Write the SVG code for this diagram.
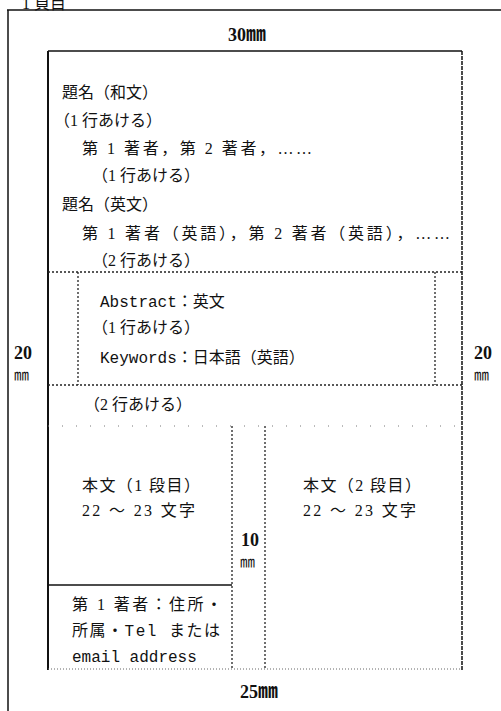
<svg xmlns="http://www.w3.org/2000/svg" width="501" height="711" viewBox="0 0 501 711">
<style>
text{font-family:"Liberation Serif","Noto Sans CJK JP",serif;font-size:16px;fill:#111}
.mono{font-family:"Liberation Mono","Noto Sans CJK JP",monospace}
.dim{font-size:18px;font-weight:bold}
.unit{font-size:15px;fill:#111}
.solid{stroke:#111;fill:none}
.dot{stroke:#222;stroke-width:1.3;stroke-dasharray:2 2;fill:none}
.faint{stroke:#666;stroke-width:1;stroke-dasharray:1 2;fill:none}
.sparse{stroke:#777;stroke-width:1;stroke-dasharray:1 13;fill:none}
</style>
<rect width="501" height="711" fill="#fff"/>
<text x="22" y="8.5" font-size="7">1 頁目</text>
<g id="connectors">
  <line class="solid" x1="7" y1="10" x2="501" y2="10" stroke-width="1.5"/>
  <line class="solid" x1="8" y1="10" x2="8" y2="711" stroke-width="1.5"/>
  <line class="solid" x1="48" y1="51" x2="48" y2="670" stroke-width="2"/>
  <line class="solid" x1="48" y1="51" x2="462" y2="51" stroke-width="1.5"/>
  <line class="solid" x1="462" y1="51" x2="462" y2="670" stroke-width="1.5" stroke-dasharray="4 1"/>
  <line class="faint" x1="48" y1="669" x2="462" y2="669"/>
  <line class="dot" x1="48" y1="272" x2="462" y2="272"/>
  <line class="dot" x1="78" y1="272" x2="78" y2="385"/>
  <line class="dot" x1="435" y1="272" x2="435" y2="385"/>
  <line class="dot" x1="48" y1="385" x2="462" y2="385" stroke-width="2"/>
  <line class="sparse" x1="48" y1="426" x2="462" y2="426"/>
  <line class="dot" x1="232" y1="426" x2="232" y2="669"/>
  <line class="dot" x1="265" y1="426" x2="265" y2="669"/>
  <line class="solid" x1="48" y1="585" x2="232" y2="585" stroke-width="1.3"/>
</g>
<g id="dim-top"><text class="dim" x="228" y="41">30<tspan font-size="20">㎜</tspan></text></g>
<g id="dim-left"><text class="dim" x="14" y="359">20</text><text class="unit" x="14" y="380">㎜</text></g>
<g id="dim-right"><text class="dim" x="474" y="359">20</text><text class="unit" x="474" y="380">㎜</text></g>
<g id="dim-mid"><text class="dim" x="241" y="546">10</text><text class="unit" x="240" y="567">㎜</text></g>
<g id="dim-bottom"><text class="dim" x="240" y="698">25<tspan font-size="20">㎜</tspan></text></g>
<g id="title-block">
  <text x="62" y="98">題名（和文）</text>
  <text x="54" y="126">（1 行あける）</text>
  <text x="82" y="154" textLength="230">第 1 著者，第 2 著者，……</text>
  <text x="92" y="181">（1 行あける）</text>
  <text x="62" y="210">題名（英文）</text>
  <text x="82" y="239" textLength="368">第 1 著者（英語），第 2 著者（英語），……</text>
  <text x="92" y="266">（2 行あける）</text>
</g>
<g id="abstract-block">
  <text class="mono" x="100" y="307">Abstract：英文</text>
  <text x="92" y="333">（1 行あける）</text>
  <text class="mono" x="100" y="363">Keywords：日本語（英語）</text>
</g>
<g id="gap"><text x="84" y="410">（2 行あける）</text></g>
<g id="column1">
  <text x="82" y="491" textLength="118">本文（1 段目）</text>
  <text x="82" y="516" textLength="113">22 ～ 23 文字</text>
</g>
<g id="column2">
  <text x="303" y="491" textLength="118">本文（2 段目）</text>
  <text x="303" y="516" textLength="113">22 ～ 23 文字</text>
</g>
<g id="footnote">
  <text x="72" y="610" textLength="150">第 1 著者：住所・</text>
  <text class="mono" x="72" y="636" textLength="148">所属・Tel または</text>
  <text class="mono" x="72" y="662">email address</text>
</g>
</svg>
